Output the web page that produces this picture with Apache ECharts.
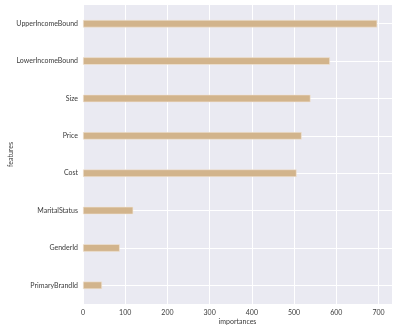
<!DOCTYPE html>
<html>
<head>
<meta charset="utf-8">
<script src="https://cdn.jsdelivr.net/npm/echarts@6/dist/echarts.min.js"></script>
<style>
html,body{margin:0;padding:0;background:#fff;}
#chart{width:400px;height:327px;}
</style>
</head>
<body>
<div id="chart"></div>
<script>
var features = ["UpperIncomeBound","LowerIncomeBound","Size","Price","Cost","MaritalStatus","GenderId","PrimaryBrandId"];
var importances = [697, 585, 539, 518, 506, 119, 87, 45];
var xTicks = [0,100,200,300,400,500,600,700];

var chart = echarts.init(document.getElementById('chart'), null, {renderer:'canvas'});
var font = 'Lato';
var txt = '#3a3a3a';
chart.setOption({
  animation:false,
  backgroundColor:'#ffffff',
  grid:{left:83,right:8,top:5,bottom:23,backgroundColor:'#EAEAF2',show:true,borderWidth:0,
        containLabel:false, outerBoundsMode:'none'},
  xAxis:{
    type:'value', min:0, max:732, interval:100,
    name:'importances', nameLocation:'middle', nameGap:14, nameMoveOverlap:false,
    nameTextStyle:{fontFamily:font,fontSize:7,color:txt},
    axisLine:{show:false}, axisTick:{show:false},
    axisLabel:{fontFamily:font,fontSize:7,color:txt,margin:5,showMaxLabel:false,
      formatter:function(v){return xTicks.indexOf(v)>=0?String(v):'';}},
    splitLine:{show:true,lineStyle:{color:'#ffffff',width:1}}
  },
  yAxis:{
    type:'category', data:features, inverse:true,
    name:'features', nameLocation:'middle', nameGap:69, nameRotate:90, nameMoveOverlap:false,
    nameTextStyle:{fontFamily:font,fontSize:7,color:txt},
    axisLine:{show:false}, axisTick:{show:false},
    axisLabel:{fontFamily:font,fontSize:7,color:txt,margin:5},
    splitLine:{show:false}
  },
  series:[{
    type:'line', data:[], z:1, silent:true,
    markLine:{silent:true,symbol:'none',label:{show:false},animation:false,
      lineStyle:{color:'#ffffff',width:1,type:'solid'},
      data:features.map(function(f){return {yAxis:f};})}
  },{
    type:'bar', data:importances, barWidth:7.5, z:5,
    itemStyle:{color:'#D2B48C',borderColor:'#F2E6D6',borderWidth:0.6}
  }]
});
</script>
</body>
</html>
